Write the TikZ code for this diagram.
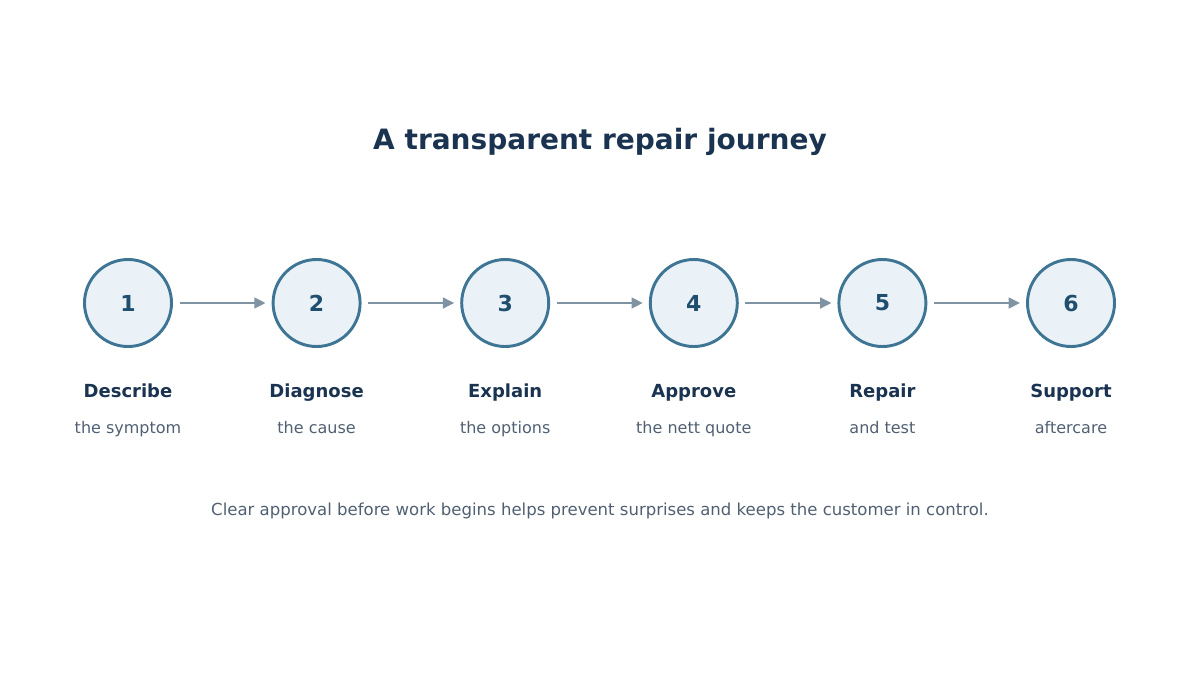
\documentclass[tikz,border=0pt]{standalone}
\usepackage{fontspec}
\setmainfont{DejaVu Sans}
\definecolor{jnavy}{RGB}{26, 51, 80}
\definecolor{jring}{RGB}{62, 117, 148}
\definecolor{jfill}{RGB}{234, 242, 248}
\definecolor{jnum}{RGB}{31, 78, 110}
\definecolor{jarrow}{RGB}{127, 147, 163}
\definecolor{jgray}{RGB}{80, 96, 114}
\usetikzlibrary{arrows.meta, positioning}

\begin{document}
\begin{tikzpicture}[x=0.75pt, y=-0.75pt,
	stepcircle/.style={circle, draw=jring, fill=jfill, line width=2.2pt,
		minimum size=87*0.75pt, inner sep=0pt, font=\fontsize{16.5}{18}\selectfont\bfseries, text=jnum},
	steptitle/.style={anchor=base, font=\fontsize{13.5}{16}\selectfont\bfseries, text=jnavy},
	stepsub/.style={anchor=base, font=\fontsize{12}{14}\selectfont, text=jgray},
	flow/.style={draw=jarrow, line width=1.9pt, -{Triangle[length=8.5pt, width=8pt]},
		shorten <=5pt, shorten >=4.5pt}]
			\useasboundingbox (0,0) rectangle (1200,675);
			
			\node[anchor=base, font=\fontsize{21}{25}\selectfont\bfseries, text=jnavy] (title) at (600,149) {A transparent repair journey};
			
			\foreach \i/\head/\sub in {1/Describe/the symptom, 2/Diagnose/the cause, 3/Explain/the options,
				4/Approve/the nett quote, 5/Repair/and test, 6/Support/aftercare}
			{
			\node[stepcircle] (c\i) at (128+188.6*\i-188.6,303) {\i};
			\node[steptitle] (h\i) at (128+188.6*\i-188.6,397) {\head};
			\node[stepsub] (s\i) at (128+188.6*\i-188.6,433) {\sub};
			}
			
			\foreach \i [evaluate=\i as \j using int(\i+1)] in {1,...,5}
			\draw[flow] (c\i) -- (c\j);
			
			\node[anchor=base, font=\fontsize{12.4}{14}\selectfont, text=jgray] (note) at (600,515)
				{Clear approval before work begins helps prevent surprises and keeps the customer in control.};
			
		\end{tikzpicture}
\end{document}
